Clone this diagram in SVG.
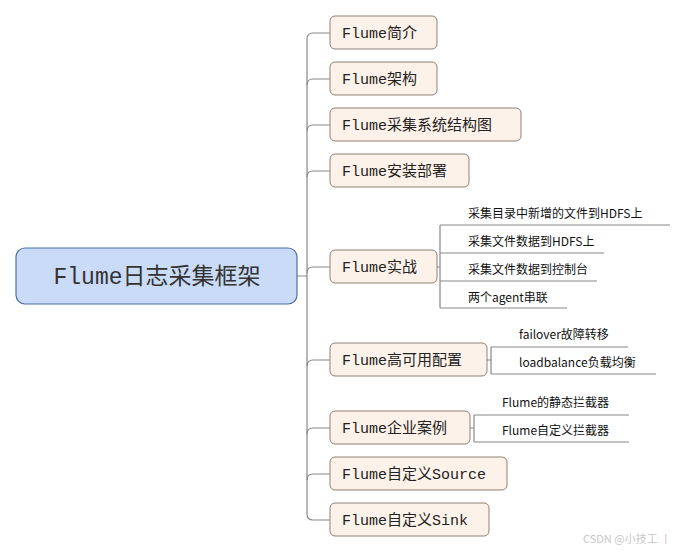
<svg xmlns="http://www.w3.org/2000/svg" width="687" height="553" viewBox="0 0 687 553">
<style>
.n rect{fill:#fdf2e9;stroke:#8f8073;stroke-width:1}
.n text{font-family:"Liberation Mono","Noto Sans CJK SC",monospace;font-size:15px;fill:#222}
.s text{font-family:"Noto Sans CJK SC",sans-serif;font-size:12px;fill:#111}
.c path{fill:none;stroke:#888;stroke-width:1.2}
</style>
<rect width="687" height="553" fill="#fff"/>
<g class="c">
<path d="M297 276H307M330 33H313Q307 33 307 39V514Q307 520 313 520H330"/>
<path d="M307 85Q307 79 313 79H330M307 131Q307 125 313 125H330M307 177Q307 171 313 171H330M307 273Q307 267 313 267H330M307 366Q307 360 313 360H330M307 434Q307 428 313 428H330M307 480Q307 474 313 474H330"/>
<path d="M437 267H440M440 225V308M440 225H670M440 253H604M440 281H597M440 308H567"/>
<path d="M487 360H491M491 347V374M491 347H628M491 374H656"/>
<path d="M470 428H474M474 415V442M474 415H629M474 442H629"/>
</g>
<g id="root"><rect x="16" y="248" width="281" height="56" rx="9" fill="#c9dbf7" stroke="#4d6ea3" stroke-width="1.2"/><text x="157" y="284" text-anchor="middle" font-family="Liberation Mono,Noto Sans CJK SC,monospace" font-size="23" fill="#333">Flume日志采集框架</text></g>
<g id="n1" class="n"><rect x="330" y="16" width="107" height="33" rx="5"/><text x="342" y="38">Flume简介</text></g>
<g id="n2" class="n"><rect x="330" y="62" width="107" height="33" rx="5"/><text x="342" y="84">Flume架构</text></g>
<g id="n3" class="n"><rect x="330" y="108" width="191" height="33" rx="5"/><text x="342" y="130">Flume采集系统结构图</text></g>
<g id="n4" class="n"><rect x="330" y="154" width="139" height="33" rx="5"/><text x="342" y="176">Flume安装部署</text></g>
<g id="n5" class="n"><rect x="330" y="250" width="107" height="33" rx="5"/><text x="342" y="272">Flume实战</text></g>
<g id="n6" class="n"><rect x="330" y="343" width="157" height="33" rx="5"/><text x="342" y="365">Flume高可用配置</text></g>
<g id="n7" class="n"><rect x="330" y="411" width="140" height="33" rx="5"/><text x="342" y="433">Flume企业案例</text></g>
<g id="n8" class="n"><rect x="330" y="457" width="177" height="33" rx="5"/><text x="342" y="479">Flume自定义Source</text></g>
<g id="n9" class="n"><rect x="330" y="503" width="159" height="33" rx="5"/><text x="342" y="525">Flume自定义Sink</text></g>
<g id="subs" class="s">
<text x="468" y="218">采集目录中新增的文件到HDFS上</text>
<text x="468" y="246">采集文件数据到HDFS上</text>
<text x="468" y="274">采集文件数据到控制台</text>
<text x="468" y="302">两个agent串联</text>
<text x="519" y="339">failover故障转移</text>
<text x="519" y="367">loadbalance负载均衡</text>
<text x="502" y="407">Flume的静态拦截器</text>
<text x="502" y="435">Flume自定义拦截器</text>
</g>
<text x="583" y="543" font-family="Noto Sans CJK SC,sans-serif" font-size="11" fill="#c8c8c8">CSDN @小技工 丨</text>
</svg>
